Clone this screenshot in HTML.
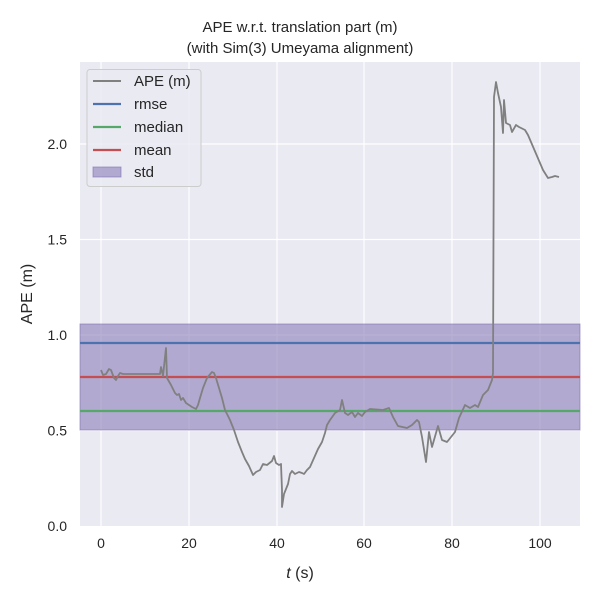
<!DOCTYPE html>
<html><head><meta charset="utf-8"><style>body{margin:0;background:#fff}svg{font-family:"Liberation Sans","DejaVu Sans",sans-serif}</style></head><body>
<svg width="600" height="600" xmlns="http://www.w3.org/2000/svg">
<rect width="600" height="600" fill="#fff"/>
<rect x="80" y="62" width="500" height="464" fill="#eaeaf2"/>
<g stroke="#fff" stroke-width="1.2">
<line x1="101" y1="62" x2="101" y2="526"/><line x1="189" y1="62" x2="189" y2="526"/><line x1="277" y1="62" x2="277" y2="526"/><line x1="364" y1="62" x2="364" y2="526"/><line x1="452" y1="62" x2="452" y2="526"/><line x1="540" y1="62" x2="540" y2="526"/>
<line x1="80" y1="430.5" x2="580" y2="430.5"/><line x1="80" y1="335" x2="580" y2="335"/><line x1="80" y1="239.5" x2="580" y2="239.5"/><line x1="80" y1="144" x2="580" y2="144"/>
</g>
<rect x="80" y="324" width="500" height="106" fill="#8172b3" fill-opacity="0.55" stroke="#8172b3" stroke-opacity="0.6"/>
<line x1="80" y1="343" x2="580" y2="343" stroke="#4c72b0" stroke-width="2.2"/>
<line x1="80" y1="411" x2="580" y2="411" stroke="#55a868" stroke-width="2.2"/>
<line x1="80" y1="377" x2="580" y2="377" stroke="#c44e52" stroke-width="2.2"/>
<polyline fill="none" stroke="#808080" stroke-width="1.8" stroke-linejoin="round" points="101,370 103,375 106,374 109,369 111,370 114,378 116,380 118,376 120,373 123,374 128,374 160,374 161,367 163,376 166,348 167,378 171,385 175,393 177,395 179,394 181,400 183,398 186,403 189,405 192,407 196,409 198,405 200,398 203,388 207,378 212,372 214,373 216,378 219,388 222,398 225,410 230,420 234,430 238,442 242,452 245,459 249,466 253,475 256,472 260,470 263,464 267,465 272,461 274,456 276,463 279,465 281,464 282,490 282,507 284,494 288,484 290,474 292,471 295,474 299,472 302,473 304,474 307,470 310,467 314,458 318,449 322,442 325,433 327,425 330,420 335,413 340,410 342,400 345,413 348,415 352,412 355,417 358,413 362,416 365,412 370,409 383,410 389,408 393,417 398,426 407,428 412,425 417,420 419,422 422,437 426,462 429,432 432,447 438,426 442,440 447,442 451,437 455,432 459,418 465,405 470,408 475,405 478,407 483,395 488,390 492,380 493,373 494,97 496,82 498,93 501,107 503,133 504,100 506,123 510,125 512,132 516,125 519,127 525,130 528,135 543,170 548,178 552,177 555,176 559,177"/>
<g font-size="14" fill="#262626">
<g text-anchor="middle">
<text x="101" y="548">0</text><text x="189" y="548">20</text><text x="277" y="548">40</text><text x="364" y="548">60</text><text x="452" y="548">80</text><text x="540" y="548">100</text>
<text x="300" y="578" font-size="16"><tspan font-style="italic">t</tspan> (s)</text>
<text x="300" y="32" font-size="15">APE w.r.t. translation part (m)</text>
<text x="300" y="53" font-size="15">(with Sim(3) Umeyama alignment)</text>
</g>
<g text-anchor="end">
<text x="67" y="531">0.0</text><text x="67" y="435.5">0.5</text><text x="67" y="340">1.0</text><text x="67" y="244.5">1.5</text><text x="67" y="149">2.0</text>
</g>
<text transform="translate(32,294) rotate(-90)" text-anchor="middle" font-size="16">APE (m)</text>
</g>
<rect x="87" y="69.5" width="114" height="117" rx="3" fill="#eaeaf2" fill-opacity="0.8" stroke="#ccc"/>
<line x1="93" y1="81" x2="121" y2="81" stroke="#808080" stroke-width="2"/>
<line x1="93" y1="104" x2="121" y2="104" stroke="#4c72b0" stroke-width="2.2"/>
<line x1="93" y1="127" x2="121" y2="127" stroke="#55a868" stroke-width="2.2"/>
<line x1="93" y1="150" x2="121" y2="150" stroke="#c44e52" stroke-width="2.2"/>
<rect x="93" y="167" width="28" height="10" fill="#8172b3" fill-opacity="0.55" stroke="#8172b3" stroke-opacity="0.6"/>
<g font-size="15" fill="#262626">
<text x="134" y="86">APE (m)</text><text x="134" y="109">rmse</text><text x="134" y="132">median</text><text x="134" y="155">mean</text><text x="134" y="177">std</text>
</g>
</svg>
</body></html>
